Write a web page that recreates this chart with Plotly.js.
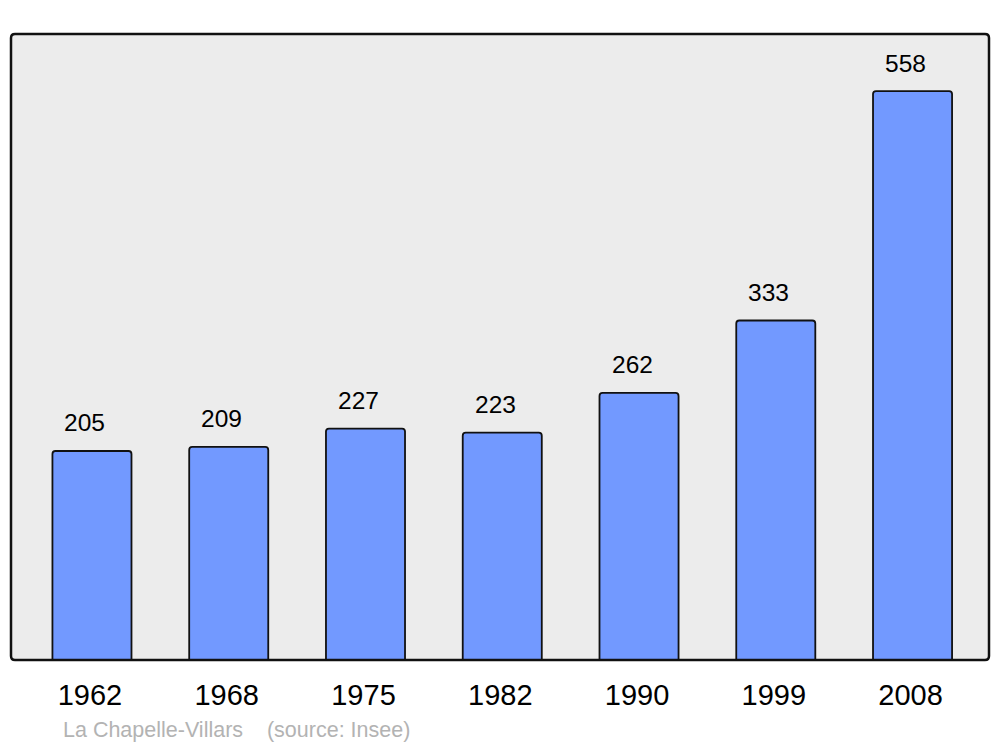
<!DOCTYPE html>
<html><head><meta charset="utf-8">
<script src="https://cdn.plot.ly/plotly-3.0.1.min.js"></script>
<style>html,body{margin:0;padding:0;background:#fff}#c{width:1000px;height:747px}</style>
</head><body><div id="c"></div>
<script>
const years = ["1962","1968","1975","1982","1990","1999","2008"];
const population = [205,209,227,223,262,333,558];
const sourceText = "La Chapelle-Villars    (source: Insee)";

const W=1000,H=747,L=11,R=11,T=34,B=87;
const pw=W-L-R, ph=H-T-B;
const rx=4/pw, ry=4/ph;
const framePath = `M ${rx},0 L ${1-rx},0 Q 1,0 1,${ry} L 1,${1-ry} Q 1,1 ${1-rx},1 L ${rx},1 Q 0,1 0,${1-ry} L 0,${ry} Q 0,0 ${rx},0 Z`;

const annotations = years.map((y,i)=>({
  x:i, y:population[i], xref:'x', yref:'y', text:String(population[i]),
  showarrow:false, xanchor:'center', yanchor:'middle', xshift:-7, yshift:28,
  font:{family:'Liberation Sans, Arial, sans-serif', size:24.5, color:'#000'}
}));
annotations.push({
  xref:'paper', yref:'paper', x:(61-L)/pw, y:-(730-660)/ph, xanchor:'left', yanchor:'middle',
  text:sourceText, showarrow:false,
  font:{family:'Liberation Sans, Arial, sans-serif', size:21.5, color:'#b3b3b3'}
});

Plotly.newPlot('c',[{
  type:'bar', x:years, y:population, width:0.578,
  marker:{color:'#7299ff', line:{color:'#111', width:1.8}, cornerradius:3},
  hoverinfo:'none'
}],{
  width:W, height:H, margin:{l:L,r:R,t:T,b:B},
  paper_bgcolor:'#fff', plot_bgcolor:'rgba(0,0,0,0)',
  xaxis:{type:'category', range:[-0.592,6.559], showgrid:false, zeroline:false, showline:false,
    ticks:'', ticklabelshift:-2, ticklabelstandoff:15,
    tickfont:{family:'Liberation Sans, Arial, sans-serif', size:29, color:'#000'}},
  yaxis:{range:[0,614], showgrid:false, zeroline:false, showline:false, showticklabels:false, ticks:''},
  shapes:[
    {type:'path', xref:'paper', yref:'paper', path:framePath, fillcolor:'#ececec', line:{width:0}, layer:'below'},
    {type:'path', xref:'paper', yref:'paper', path:framePath, fillcolor:'rgba(0,0,0,0)', line:{color:'#111', width:2.5}, layer:'above'}
  ],
  annotations:annotations, showlegend:false
},{staticPlot:true});
</script></body></html>
